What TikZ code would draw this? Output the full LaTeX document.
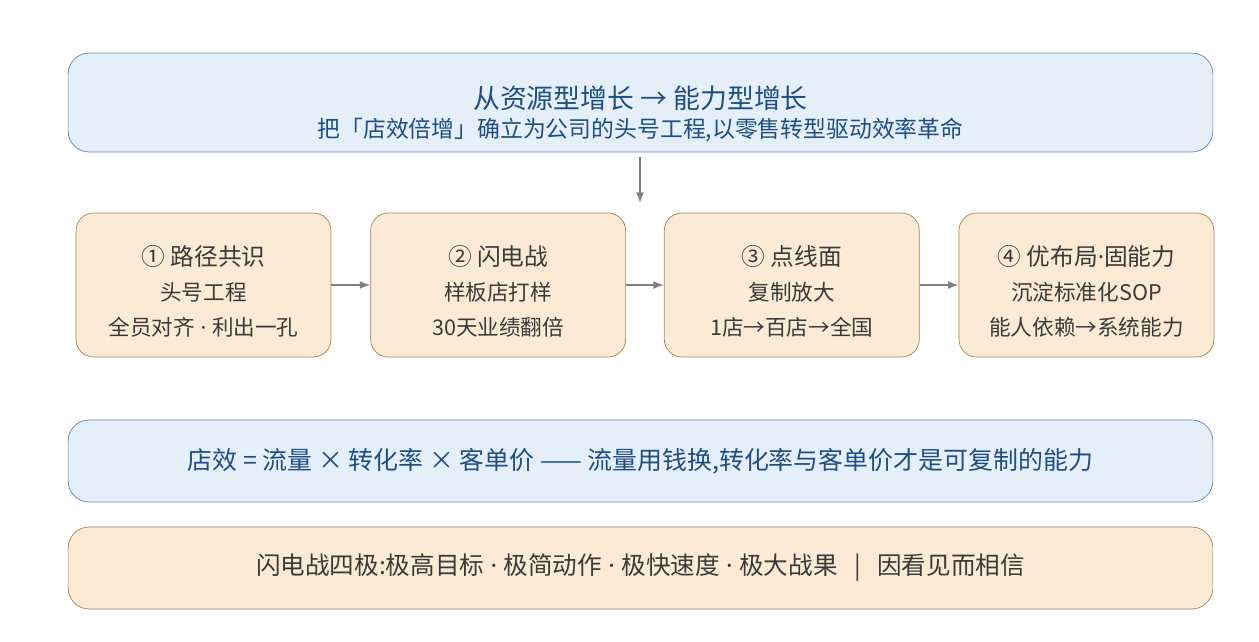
\documentclass[tikz,border=0pt]{standalone}
\usepackage{fontspec}
\setmainfont{Noto Sans CJK SC}
\newfontfamily\latinfont{Noto Sans}
\newcommand{\middot}{{\latinfont\ ·\ }}
\newcommand{\stagetitle}[1]{\rule{0pt}{18.5pt}{\fontsize{13.5}{19}\selectfont #1}}
\usetikzlibrary{positioning, arrows.meta}
\definecolor{bluefill}{HTML}{E4EFFA}
\definecolor{blueline}{HTML}{5A86C0}
\definecolor{bluetext}{HTML}{1F4E85}
\definecolor{orangefill}{HTML}{FBEBD5}
\definecolor{orangeline}{HTML}{A8814E}
\definecolor{darktext}{HTML}{3A3A3A}
\begin{document}
\begin{tikzpicture}[
    x=0.02cm, y=-0.02cm,
    node distance=0.4cm,
    wide/.style={rectangle, draw=blueline, fill=bluefill, rounded corners=12pt, minimum width=22.9cm, text centered, align=center},
    stage/.style={rectangle, draw=orangeline, fill=orangefill, rounded corners=10pt, minimum width=5.1cm, minimum height=2.88cm, align=center, text=darktext, font=\fontsize{12.3}{19.8}\selectfont},
    arrow/.style={-{Latex[length=6pt]}, thick, draw=gray}
]
    \useasboundingbox (0,0) rectangle (1259,642);

    % Top banner
    \node [wide, minimum height=1.98cm, text=bluetext] (goal) at (640.5,102.5)
        {\rule{0pt}{26pt}{\fontsize{15.3}{20}\selectfont 从资源型增长 → 能力型增长}\\[3pt]
         {\fontsize{13}{16}\selectfont 把「店效倍增」确立为公司的头号工程,以零售转型驱动效率革命}};

    % Stages
    \node [stage] (path) at (203.5,285) {\stagetitle{① 路径共识}\\头号工程\\全员对齐\middot 利出一孔};
    \node [stage, right=0.78cm of path] (blitz) {\stagetitle{② 闪电战}\\样板店打样\\30天业绩翻倍};
    \node [stage, right=0.76cm of blitz] (scale) {\stagetitle{③ 点线面}\\复制放大\\1店→百店→全国};
    \node [stage, right=0.78cm of scale] (sop) {\stagetitle{④ 优布局{\latinfont ·}固能力}\\沉淀标准化SOP\\能人依赖→系统能力};

    % Formula and rule
    \node [wide, minimum height=1.64cm, text=bluetext, font=\fontsize{14.2}{18}\selectfont] (formula) at (640.5,461)
        {店效 = 流量 × 转化率 × 客单价 —— 流量用钱换,转化率与客单价才是可复制的能力};
    \node [wide, draw=orangeline, fill=orangefill, minimum height=1.64cm, text=darktext, font=\fontsize{14}{18}\selectfont] (rule) at (640.5,568)
        {闪电战四极:极高目标\middot 极简动作\middot 极快速度\middot 极大战果 \ \ | \ \ 因看见而相信};

    % Arrows
    \coordinate (top) at (640,157);
    \coordinate (drop) at (640,203);
    \draw [arrow] (top) -- (drop);
    \draw [arrow] (path) -- (blitz);
    \draw [arrow] (blitz) -- (scale);
    \draw [arrow] (scale) -- (sop);

\end{tikzpicture}
\end{document}
